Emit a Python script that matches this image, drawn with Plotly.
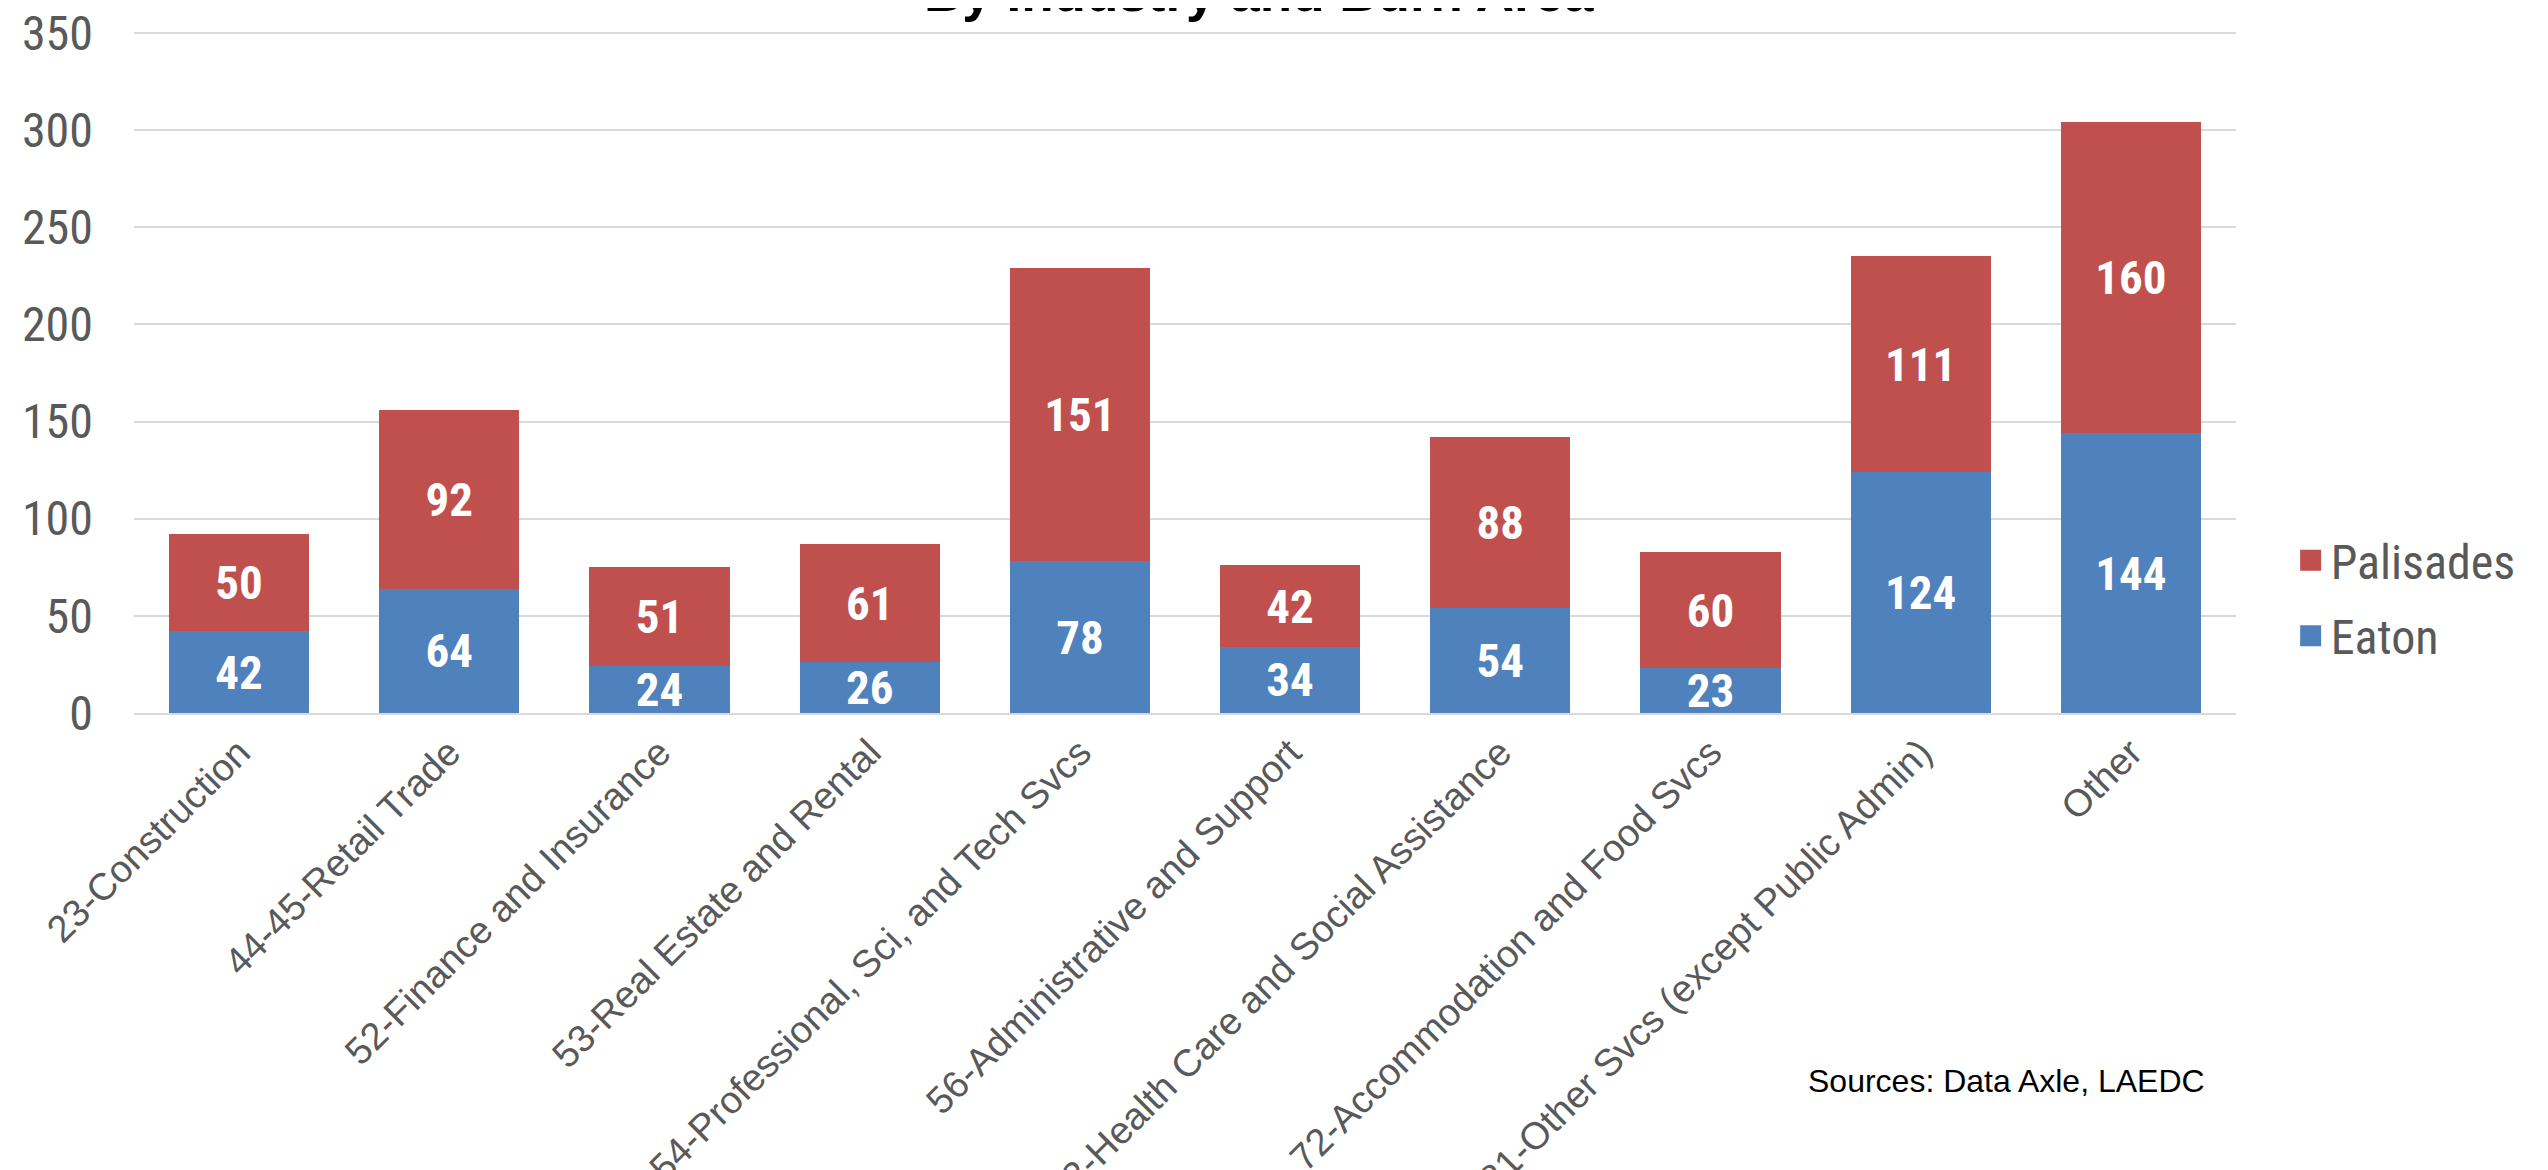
import plotly.graph_objects as go

categories = [
    "23-Construction",
    "44-45-Retail Trade",
    "52-Finance and Insurance",
    "53-Real Estate and Rental",
    "54-Professional, Sci, and Tech Svcs",
    "56-Administrative and Support",
    "62-Health Care and Social Assistance",
    "72-Accommodation and Food Svcs",
    "81-Other Svcs (except Public Admin)",
    "Other",
]
eaton = [42, 64, 24, 26, 78, 34, 54, 23, 124, 144]
palisades = [50, 92, 51, 61, 151, 42, 88, 60, 111, 160]
y_ticks = [0, 50, 100, 150, 200, 250, 300, 350]

COND = "Roboto Condensed, Liberation Sans Narrow, Arial Narrow, sans-serif"
REG = "Liberation Sans, Arial, sans-serif"
GREY = "#595959"
BLUE = "#4F81BD"
RED = "#C0504D"

fig = go.Figure()
for name, vals, col in [("Eaton", eaton, BLUE), ("Palisades", palisades, RED)]:
    fig.add_trace(go.Bar(
        name=name, x=categories, y=vals, marker=dict(color=col, line=dict(width=0)),
        text=vals, texttemplate="%{text}", textposition="inside", insidetextanchor="middle",
        textangle=0, constraintext="none", showlegend=False,
        textfont=dict(family=COND, size=47, color="white", weight="bold"),
    ))
# legend entries (square swatches), Palisades listed first
for name, col in [("Palisades", RED), ("Eaton", BLUE)]:
    fig.add_trace(go.Scatter(
        name=name, x=[None], y=[None], mode="markers", legendgroup=name,
        marker=dict(symbol="square", size=16, color=col, line=dict(color=col, width=5)),
        showlegend=True, hoverinfo="skip",
    ))

fig.update_layout(
    width=2540, height=1162,
    barmode="stack", bargap=1/3,
    plot_bgcolor="white", paper_bgcolor="white",
    margin=dict(l=126, r=312, t=21, b=457, autoexpand=False),
    legend=dict(
        traceorder="grouped", tracegroupgap=10, itemsizing="trace",
        x=1.026, xanchor="left", y=0.168, yanchor="middle",
        font=dict(family=COND, size=48, color=GREY), bgcolor="rgba(0,0,0,0)",
    ),
    showlegend=True,
)
fig.update_yaxes(
    range=[0, 352], tickvals=y_ticks, showgrid=True, gridcolor="#D9D9D9", gridwidth=2,
    zeroline=False, showline=False, ticks="", ticklabeloverflow="allow",
    tickfont=dict(family=COND, size=48, color=GREY), ticklabelstandoff=40,
)
fig.update_xaxes(
    tickangle=-45, showline=True, linecolor="#D9D9D9", linewidth=2, ticks="",
    tickfont=dict(family=REG, size=38, color=GREY),
)
fig.add_annotation(
    text="<b>By Industry and Burn Area</b>", xref="paper", yref="paper",
    x=0.535, y=1.007, xanchor="center", yanchor="bottom", showarrow=False,
    font=dict(family=REG, size=53, color="black"),
)
fig.add_annotation(
    text="Sources: Data Axle, LAEDC", xref="paper", yref="paper",
    x=0.986, y=-0.538, xanchor="right", yanchor="middle", showarrow=False,
    font=dict(family=REG, size=32, color="black"),
)

fig.write_html("out.html")
